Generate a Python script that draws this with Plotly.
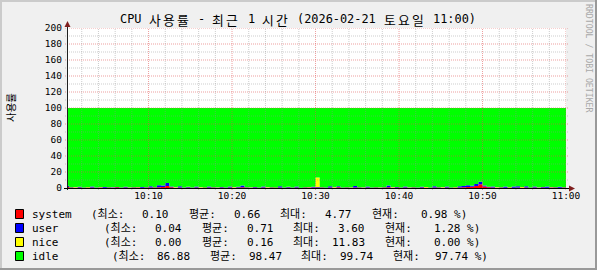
import plotly.graph_objects as go
import pandas as pd

# ---------------- data ----------------
start_time = "2026-02-21 10:00:00"
step_seconds = 30

system = [1.20, 0.55, 0.40, 0.62, 0.35, 0.48, 0.70, 0.30, 0.52, 0.45,
          0.60, 0.38, 0.85, 0.42, 0.50, 0.33, 0.47, 0.58, 0.40, 0.65,
          0.72, 0.55, 0.90, 1.40, 2.60, 0.80, 0.45, 0.62, 0.38, 0.50,
          0.43, 0.56, 0.35, 0.48, 0.70, 0.52, 0.41, 0.60, 0.37, 0.55,
          0.46, 0.63, 0.90, 0.50, 0.34, 0.58, 0.44, 0.61, 0.39, 0.53,
          0.47, 0.60, 0.36, 0.55, 0.42, 0.75, 0.10, 0.48, 0.57, 0.66,
          0.70, 0.52, 0.40, 0.59, 0.45, 0.88, 0.36, 0.51, 0.43, 0.62,
          0.49, 0.38, 0.56, 0.44, 0.67, 0.35, 0.58, 0.95, 0.41, 0.53,
          0.46, 0.60, 0.37, 0.54, 0.42, 0.65, 0.48, 0.39, 0.57, 0.50,
          0.44, 0.62, 0.38, 0.55, 0.70, 0.85, 1.10, 1.60, 2.40, 4.77,
          1.80, 0.90, 0.52, 0.45, 0.60, 0.38, 0.56, 0.43, 0.64, 0.47,
          0.55, 0.40, 0.61, 0.45, 0.58, 0.36, 0.52, 0.70, 0.44, 0.60, 0.98]

user = [1.50, 0.40, 0.25, 0.90, 0.30, 0.20, 1.10, 0.35, 0.28, 0.95,
        0.22, 0.60, 0.30, 0.18, 1.20, 0.25, 0.40, 0.30, 0.85, 0.20,
        1.60, 0.35, 2.40, 1.80, 3.60, 1.20, 0.30, 1.50, 0.25, 0.90,
        0.20, 1.40, 0.30, 0.04, 1.10, 0.40, 0.18, 0.70, 0.25, 1.30,
        0.30, 1.00, 2.10, 0.35, 0.24, 0.80, 0.30, 1.20, 0.20, 0.45,
        0.28, 1.50, 0.22, 0.60, 0.30, 1.10, 0.16, 0.35, 0.26, 0.90,
        0.59, 0.30, 0.20, 1.60, 0.25, 1.40, 0.30, 0.45, 0.22, 1.80,
        0.30, 0.20, 1.20, 0.28, 0.40, 0.22, 0.35, 2.20, 0.30, 0.60,
        0.25, 1.30, 0.20, 0.40, 0.28, 0.90, 0.22, 0.35, 1.60, 0.30,
        0.24, 1.10, 0.30, 0.20, 1.50, 1.80, 2.20, 1.30, 2.60, 3.00,
        1.40, 0.60, 1.20, 0.30, 0.25, 1.60, 0.22, 1.40, 1.70, 0.30,
        1.50, 0.25, 1.20, 0.28, 0.60, 1.40, 0.30, 0.22, 1.10, 0.35, 1.28]

nice = [0.00, 0.00, 0.50, 0.00, 0.00, 0.30, 0.00, 0.00, 0.60, 0.00,
        0.00, 0.40, 0.00, 0.00, 0.00, 0.50, 0.00, 0.30, 0.00, 0.00,
        0.00, 0.00, 0.00, 0.00, 0.00, 0.00, 0.40, 0.00, 0.00, 0.30,
        0.00, 0.00, 0.50, 0.00, 0.00, 0.00, 0.30, 0.00, 0.00, 0.00,
        0.40, 0.00, 0.00, 0.00, 0.30, 0.00, 0.00, 0.00, 0.60, 0.00,
        0.00, 0.00, 0.00, 0.40, 0.00, 0.00, 0.00, 0.00, 0.30, 0.00,
        11.83, 0.00, 0.00, 0.00, 0.50, 0.00, 0.00, 0.00, 0.30, 0.00,
        0.00, 0.40, 0.00, 0.00, 0.00, 0.30, 0.00, 0.00, 0.50, 0.00,
        0.00, 0.00, 0.30, 0.00, 0.00, 0.00, 0.40, 0.00, 0.00, 0.00,
        0.50, 0.00, 0.00, 0.30, 0.00, 0.00, 0.00, 0.00, 0.00, 0.00,
        0.00, 0.00, 0.00, 0.40, 0.00, 0.00, 0.30, 0.00, 0.00, 0.50,
        0.00, 0.00, 0.00, 0.30, 0.00, 0.00, 0.40, 0.00, 0.00, 0.00, 0.00]

idle = [97.30, 99.05, 98.85, 98.48, 99.35, 99.02, 98.20, 99.35, 98.60, 98.60,
        99.18, 98.62, 98.85, 99.40, 98.30, 98.92, 99.13, 98.82, 98.75, 99.15,
        97.68, 99.10, 96.70, 96.80, 93.80, 98.00, 98.85, 97.88, 99.37, 98.30,
        99.37, 98.04, 98.85, 99.48, 98.20, 99.08, 99.11, 98.70, 99.38, 98.15,
        98.84, 98.37, 97.00, 99.15, 99.12, 98.62, 99.26, 98.19, 98.81, 99.02,
        99.25, 97.90, 99.42, 98.45, 99.28, 98.15, 99.74, 99.17, 98.87, 98.44,
        86.88, 99.18, 99.40, 97.81, 98.80, 97.72, 99.34, 99.04, 99.05, 97.58,
        99.21, 99.02, 98.24, 99.28, 98.93, 99.13, 99.07, 96.85, 98.79, 98.87,
        99.29, 98.10, 99.13, 99.06, 99.30, 98.45, 98.90, 99.26, 97.83, 99.20,
        98.82, 98.28, 99.32, 98.95, 97.80, 97.35, 96.70, 97.10, 95.00, 92.23,
        96.80, 98.50, 98.28, 98.85, 99.15, 98.02, 98.92, 98.17, 97.66, 98.73,
        97.95, 99.35, 98.19, 98.97, 98.82, 98.24, 98.78, 99.08, 98.46, 99.05, 97.74]

series_names = ["system", "user", "nice", "idle"]
stat_min = [0.10, 0.04, 0.00, 86.88]
stat_avg = [0.66, 0.71, 0.16, 98.47]
stat_max = [4.77, 3.60, 11.83, 99.74]
stat_cur = [0.98, 1.28, 0.00, 97.74]
stat_labels = ["(최소:", "평균:", "최대:", "현재:"]

x_tick_times = ["2026-02-21 10:10", "2026-02-21 10:20", "2026-02-21 10:30",
                "2026-02-21 10:40", "2026-02-21 10:50", "2026-02-21 11:00"]
x_tick_labels = ["10:10", "10:20", "10:30", "10:40", "10:50", "11:00"]
y_tick_values = [0, 20, 40, 60, 80, 100, 120, 140, 160, 180, 200]

title_text = "CPU 사용률 - 최근 1 시간 (2026-02-21 토요일 11:00)"
y_title_text = "사용률"
watermark_text = "RRDTOOL / TOBI OETIKER"

# ---------------- styles / layout ----------------
series_colors = ["#FF0000", "#0000FF", "#FFFF00", "#00FF00"]
W, H = 597, 270
PL, PR, PT, PB = 67, 566, 28, 188
x_range = ["2026-02-21 10:00:14", "2026-02-21 11:00:00"]
MONO = "DejaVu Sans Mono"
CJK = "Noto Sans CJK KR"
MAJOR_GRID = "rgba(222,80,80,0.55)"
MINOR_GRID = "rgba(143,143,143,0.45)"
ARROW = "#7F1F1F"


def px(x):
    return (x - PL) / (PR - PL)


def py(y):
    return (PB - y) / (PB - PT)


times = pd.date_range(start_time, periods=len(system), freq=f"{step_seconds}s")

fig = go.Figure()
for name, vals, color in zip(series_names, [system, user, nice, idle], series_colors):
    fig.add_trace(go.Scatter(
        x=times, y=vals, name=name, mode="lines", stackgroup="cpu",
        line=dict(width=0, shape="hv"), fillcolor=color, hoverinfo="skip",
        showlegend=False))

shapes = []
# horizontal grid (drawn above data like rrdtool)
for v in range(10, 201, 10):
    major = v % 20 == 0
    shapes.append(dict(type="line", xref="paper", yref="y",
                       x0=px(PL - 2), x1=px(PR + 2), y0=v, y1=v, layer="above",
                       line=dict(color=MAJOR_GRID if major else MINOR_GRID, width=1, dash="1px,1px")))
# vertical grid
for t in pd.date_range("2026-02-21 10:02", "2026-02-21 11:00", freq="2min"):
    major = t.minute % 10 == 0
    ts = t.strftime("%Y-%m-%d %H:%M:%S")
    shapes.append(dict(type="line", xref="x", yref="paper",
                       x0=ts, x1=ts, y0=py(PB + 2), y1=1, layer="above",
                       line=dict(color=MAJOR_GRID if major else MINOR_GRID, width=1, dash="1px,1px")))
# axis lines
shapes.append(dict(type="line", xref="paper", yref="paper", layer="above",
                   x0=px(PL + 0.5), x1=px(PL + 0.5), y0=py(PB + 2), y1=py(25),
                   line=dict(color="#202020", width=1)))
shapes.append(dict(type="line", xref="paper", yref="paper", layer="above",
                   x0=px(PL - 3), x1=px(PR + 4), y0=py(PB + 0.5), y1=py(PB + 0.5),
                   line=dict(color="#000000", width=1)))
# arrow heads
up = f"M {px(PL-2.5)} {py(27)} L {px(PL+3.5)} {py(27)} L {px(PL+0.5)} {py(21)} Z"
right = f"M {px(PR+3)} {py(PB-2.5)} L {px(PR+3)} {py(PB+3.5)} L {px(PR+9)} {py(PB+0.5)} Z"
for p in (up, right):
    shapes.append(dict(type="path", xref="paper", yref="paper", path=p, layer="above",
                       fillcolor=ARROW, line=dict(color=ARROW, width=0)))
# legend colour boxes
rows_y = [214, 228, 242, 256]
for yc, color in zip(rows_y, series_colors):
    shapes.append(dict(type="rect", xref="paper", yref="paper", layer="above",
                       x0=px(15.5), x1=px(23.5), y0=py(yc - 4.5), y1=py(yc + 4.5),
                       fillcolor=color, line=dict(color="#000000", width=1)))
# 3D frame
shapes.append(dict(type="line", xref="paper", yref="paper", x0=px(0), x1=px(W), y0=py(1), y1=py(1),
                   line=dict(color="#CBCBCB", width=2)))
shapes.append(dict(type="line", xref="paper", yref="paper", x0=px(1), x1=px(1), y0=py(0), y1=py(H),
                   line=dict(color="#CBCBCB", width=2)))
shapes.append(dict(type="line", xref="paper", yref="paper", x0=px(0), x1=px(W), y0=py(H - 1), y1=py(H - 1),
                   line=dict(color="#999999", width=2)))
shapes.append(dict(type="line", xref="paper", yref="paper", x0=px(W - 1), x1=px(W - 1), y0=py(0), y1=py(H),
                   line=dict(color="#999999", width=2)))

annotations = []


def text_at(x, y, s, size, family, anchor="left", color="#000000", angle=0):
    annotations.append(dict(xref="paper", yref="paper", x=px(x), y=py(y), text=s,
                            showarrow=False, xanchor=anchor, yanchor="middle",
                            borderpad=0, textangle=angle,
                            font=dict(family=family, size=size, color=color)))


# title on a monospace grid: hangul glyphs take about two cells
unit = 7.2
kor = 14.0
pos = 0.0
run, run_start = "", 0.0
for ch in title_text + " ":
    if ord(ch) >= 0x1100:
        if run:
            text_at(119 + run_start, 19, run, 11.9, MONO)
            run = ""
        text_at(119 + pos + kor / 2, 19.5, ch, 12.8, CJK, anchor="center")
        pos += kor
    elif ch == " ":
        if run:
            text_at(119 + run_start, 19, run, 11.9, MONO)
            run = ""
        pos += unit
    else:
        if not run:
            run_start = pos
        run += ch
        pos += unit

# y title & watermark
text_at(10, 108, y_title_text, 10.5, CJK, anchor="center", angle=-90)
text_at(589, 58, watermark_text, 8.2, MONO, anchor="center", color="#A8A8A8", angle=90)

# legend
row_start = [90, 103, 103, 111]
label_off = [0, 98, 189, 281]
value_off = [80, 172, 263]
for i, name in enumerate(series_names):
    yc, s0 = rows_y[i], row_start[i]
    text_at(31, yc, name, 11, MONO)
    for lab, off in zip(stat_labels, label_off):
        text_at(s0 + off, yc, lab, 11, f"{MONO}, {CJK}")
    for v, off in zip([stat_min[i], stat_avg[i], stat_max[i]], value_off):
        text_at(s0 + off, yc, f"{v:.2f}", 11, MONO, anchor="right")
    text_at(s0 + 378, yc, f"{stat_cur[i]:.2f} %)", 11, MONO, anchor="right")

fig.update_layout(
    width=W, height=H, autosize=False,
    margin=dict(l=PL, r=W - PR, t=PT, b=H - PB, pad=0),
    paper_bgcolor="#F0F0F0", plot_bgcolor="#FFFFFF",
    showlegend=False, shapes=shapes, annotations=annotations,
    xaxis=dict(type="date", range=x_range, tickvals=x_tick_times, ticktext=x_tick_labels,
               showgrid=False, zeroline=False, showline=False, ticks="",
               tickfont=dict(family=MONO, size=9.5, color="#000000"), fixedrange=True),
    yaxis=dict(range=[0, 200], tickvals=y_tick_values, ticktext=[str(v) for v in y_tick_values],
               showgrid=False, zeroline=False, showline=False, ticks="",
               ticklabelstandoff=4,
               tickfont=dict(family=MONO, size=9.5, color="#000000"), fixedrange=True),
)

fig.write_html("out.html", config={"displayModeBar": False})
